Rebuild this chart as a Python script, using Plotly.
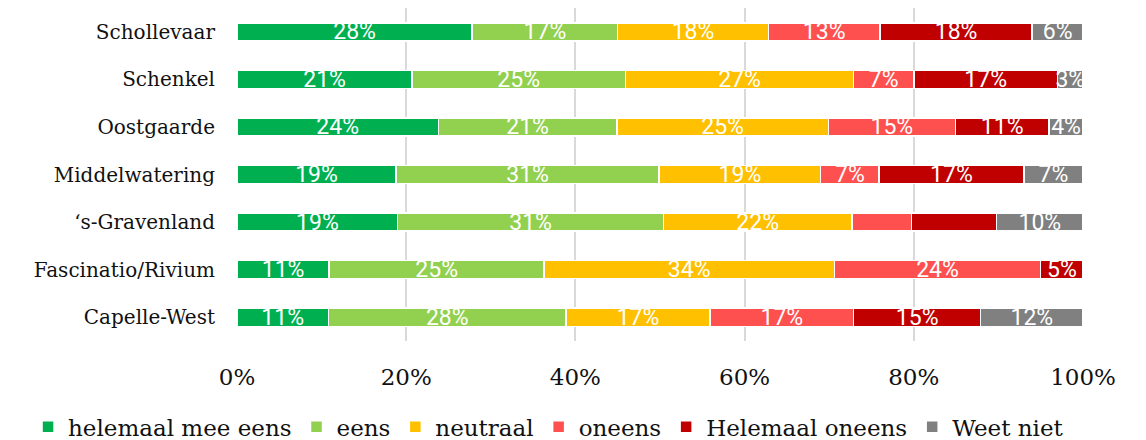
"""
plot.py
Stacked horizontal bar chart: opinion per neighbourhood (share of answers).
"""

import plotly.graph_objects as go


SERIF = "DejaVu Serif"
LABEL_FONT = "Roboto"
GRID_COLOR = "#d9d9d9"
TEXT_COLOR = "#111111"

# neighbourhoods, top to bottom
wijken = [
    "Schollevaar",
    "Schenkel",
    "Oostgaarde",
    "Middelwatering",
    "\u2018s-Gravenland",
    "Fascinatio/Rivium",
    "Capelle-West",
]

series_names = [
    "helemaal mee eens",
    "eens",
    "neutraal",
    "oneens",
    "Helemaal oneens",
    "Weet niet",
]
series_colors = ["#00B050", "#92D050", "#FFC000", "#FF5050", "#C00000", "#808080"]

# percentages per series, same order as wijken
helemaal_mee_eens = [27.8, 20.7, 23.8, 18.8, 19.0, 10.9, 10.8]
eens = [17.2, 25.2, 21.1, 31.1, 31.4, 25.4, 28.1]
neutraal = [17.8, 27.0, 25.0, 19.1, 22.3, 34.3, 17.0]
oneens = [13.2, 7.1, 15.0, 6.9, 7.0, 24.4, 17.0]
helemaal_oneens = [18.0, 17.0, 11.1, 17.1, 10.1, 5.0, 15.0]
weet_niet = [6.0, 3.0, 4.0, 7.0, 10.2, 0.0, 12.1]

# data labels that are not shown in the original (series index, wijk)
hidden_labels = {(3, "\u2018s-Gravenland"), (4, "\u2018s-Gravenland")}

x_ticks = [0, 20, 40, 60, 80, 100]
x_ticktext = ["0%", "20%", "40%", "60%", "80%", "100%"]

all_values = [helemaal_mee_eens, eens, neutraal, oneens, helemaal_oneens, weet_niet]

fig = go.Figure()
for i, (name, color, values) in enumerate(zip(series_names, series_colors, all_values)):
    labels = []
    for wijk, v in zip(wijken, values):
        if v <= 0 or (i, wijk) in hidden_labels:
            labels.append("")
        else:
            labels.append(f"{round(v)}%")
    fig.add_trace(go.Bar(
        y=wijken, x=values, name=name, orientation="h",
        marker=dict(color=color, line=dict(color="white", width=1.5)),
        text=labels, textposition="inside", insidetextanchor="middle",
        constraintext="none", textangle=0,
        insidetextfont=dict(family=LABEL_FONT, size=23, color="white"),
        hoverinfo="name+x+y",
    ))

# the page body adds an 8px offset, margins are set with that in mind
fig.update_layout(
    barmode="stack",
    bargap=0.62,
    width=1146,
    height=440,
    paper_bgcolor="white",
    plot_bgcolor="white",
    font=dict(family=SERIF, size=20, color=TEXT_COLOR),
    margin=dict(l=229, r=71, t=0, b=107, autoexpand=False),
    xaxis=dict(
        range=[0, 100], tickmode="array", tickvals=x_ticks, ticktext=x_ticktext,
        showgrid=True, gridcolor=GRID_COLOR, gridwidth=2,
        zeroline=False, showline=False,
        ticklabelstandoff=20,
        tickfont=dict(family=SERIF, size=23, color=TEXT_COLOR),
    ),
    yaxis=dict(
        autorange="reversed", showgrid=False, zeroline=False,
        ticklabelstandoff=21,
        tickfont=dict(family=SERIF, size=20, color=TEXT_COLOR),
    ),
    legend=dict(
        orientation="h", x=-0.247, xanchor="left",
        y=-0.258, yanchor="middle", traceorder="normal",
        font=dict(family=SERIF, size=23, color=TEXT_COLOR), itemwidth=30,
    ),
    showlegend=True,
)

fig.write_html("out.html")
